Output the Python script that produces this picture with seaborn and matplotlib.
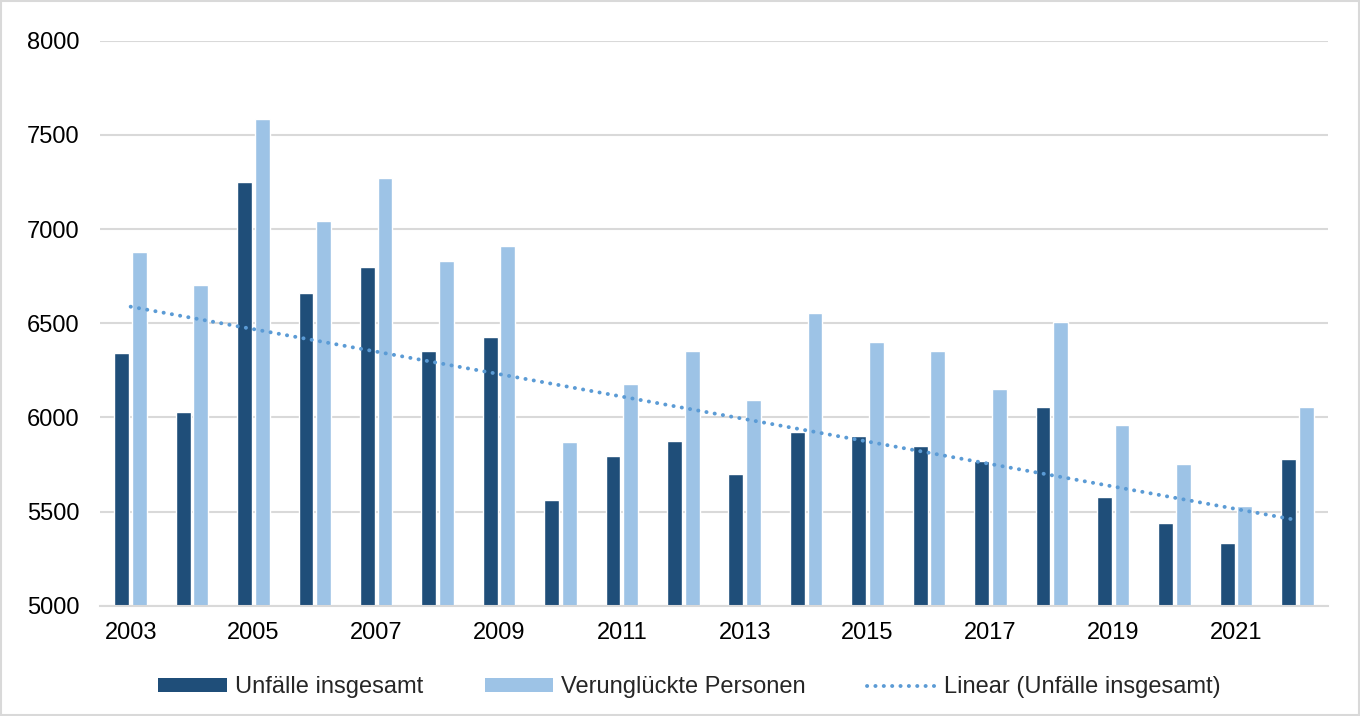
import numpy as np
import pandas as pd
import seaborn as sns
import matplotlib
matplotlib.use("Agg")
import matplotlib.pyplot as plt
from matplotlib.patches import Patch, Rectangle
from matplotlib.lines import Line2D

years = list(range(2003, 2023))
unfaelle = [6341, 6028, 7251, 6662, 6799, 6355, 6428, 5564, 5795, 5873,
            5702, 5922, 5901, 5850, 5770, 6053, 5576, 5440, 5332, 5781]
verunglueckte = [6880, 6705, 7585, 7044, 7272, 6832, 6908, 5869, 6180, 6353,
                 6092, 6556, 6403, 6351, 6152, 6509, 5958, 5751, 5528, 6053]
series_names = ["Unfälle insgesamt", "Verunglückte Personen"]
trend_label = "Linear (Unfälle insgesamt)"
y_ticks = [5000, 5500, 6000, 6500, 7000, 7500, 8000]

DARK = "#1F4E79"
LIGHT = "#9DC3E6"
TREND = "#5B9BD5"
GRID = "#D9D9D9"
FS = 17
DOTS = (0, (0.05, 2.1))
TREND_LW = 2.8

df = pd.DataFrame({
    "Jahr": [str(y) for y in years] * 2,
    "Wert": unfaelle + verunglueckte,
    "Reihe": [series_names[0]] * len(years) + [series_names[1]] * len(years),
})

sns.set_theme(style="white")
plt.rcParams["font.family"] = ["Liberation Sans", "DejaVu Sans"]

fig = plt.figure(figsize=(13.6, 7.16), dpi=100)
ax = fig.add_axes([0.0735, 0.154, 0.903, 0.789])

sns.barplot(data=df, x="Jahr", y="Wert", hue="Reihe",
            palette=[DARK, LIGHT], width=0.574, gap=0.16,
            legend=False, ax=ax, saturation=1)

# linear trend line through the first series (like Excel's trendline)
xs = np.arange(len(years))
k, d = np.polyfit(xs, unfaelle, 1)
ax.plot(xs, k * xs + d, color=TREND, linewidth=TREND_LW,
        linestyle=DOTS, dash_capstyle="round", zorder=4)

ax.set_ylim(5000, 8000)
ax.set_xlim(-0.5, len(years) - 0.5)
ax.set_yticks(y_ticks)
ax.set_yticklabels([str(t) for t in y_ticks])
ax.set_xticks(xs[::2])
ax.set_xticklabels([str(y) for y in years[::2]])
ax.set_xlabel("")
ax.set_ylabel("")

ax.grid(axis="y", color=GRID, linewidth=1.5)
ax.set_axisbelow(True)
for side in ["top", "right", "left"]:
    ax.spines[side].set_visible(False)
ax.spines["bottom"].set_color(GRID)
ax.spines["bottom"].set_linewidth(1.5)
ax.tick_params(axis="y", length=0, pad=15, labelsize=FS, labelcolor="black")
ax.tick_params(axis="x", length=0, pad=12, labelsize=FS, labelcolor="black")

handles = [
    Patch(facecolor=DARK, edgecolor="none"),
    Patch(facecolor=LIGHT, edgecolor="none"),
    Line2D([0], [0], color=TREND, linewidth=TREND_LW, linestyle=DOTS,
           dash_capstyle="round"),
]
fig.legend(handles, series_names + [trend_label], loc="center",
           bbox_to_anchor=(0.507, 0.040), ncol=3, frameon=False,
           fontsize=FS, handlelength=2.9, handleheight=0.55,
           handletextpad=0.35, columnspacing=2.6)

# chart area frame
fig.patches.append(Rectangle((0.001, 0.001), 0.998, 0.997, transform=fig.transFigure,
                             fill=False, edgecolor=GRID, linewidth=1.5))

fig.savefig("out.png", dpi=100)
